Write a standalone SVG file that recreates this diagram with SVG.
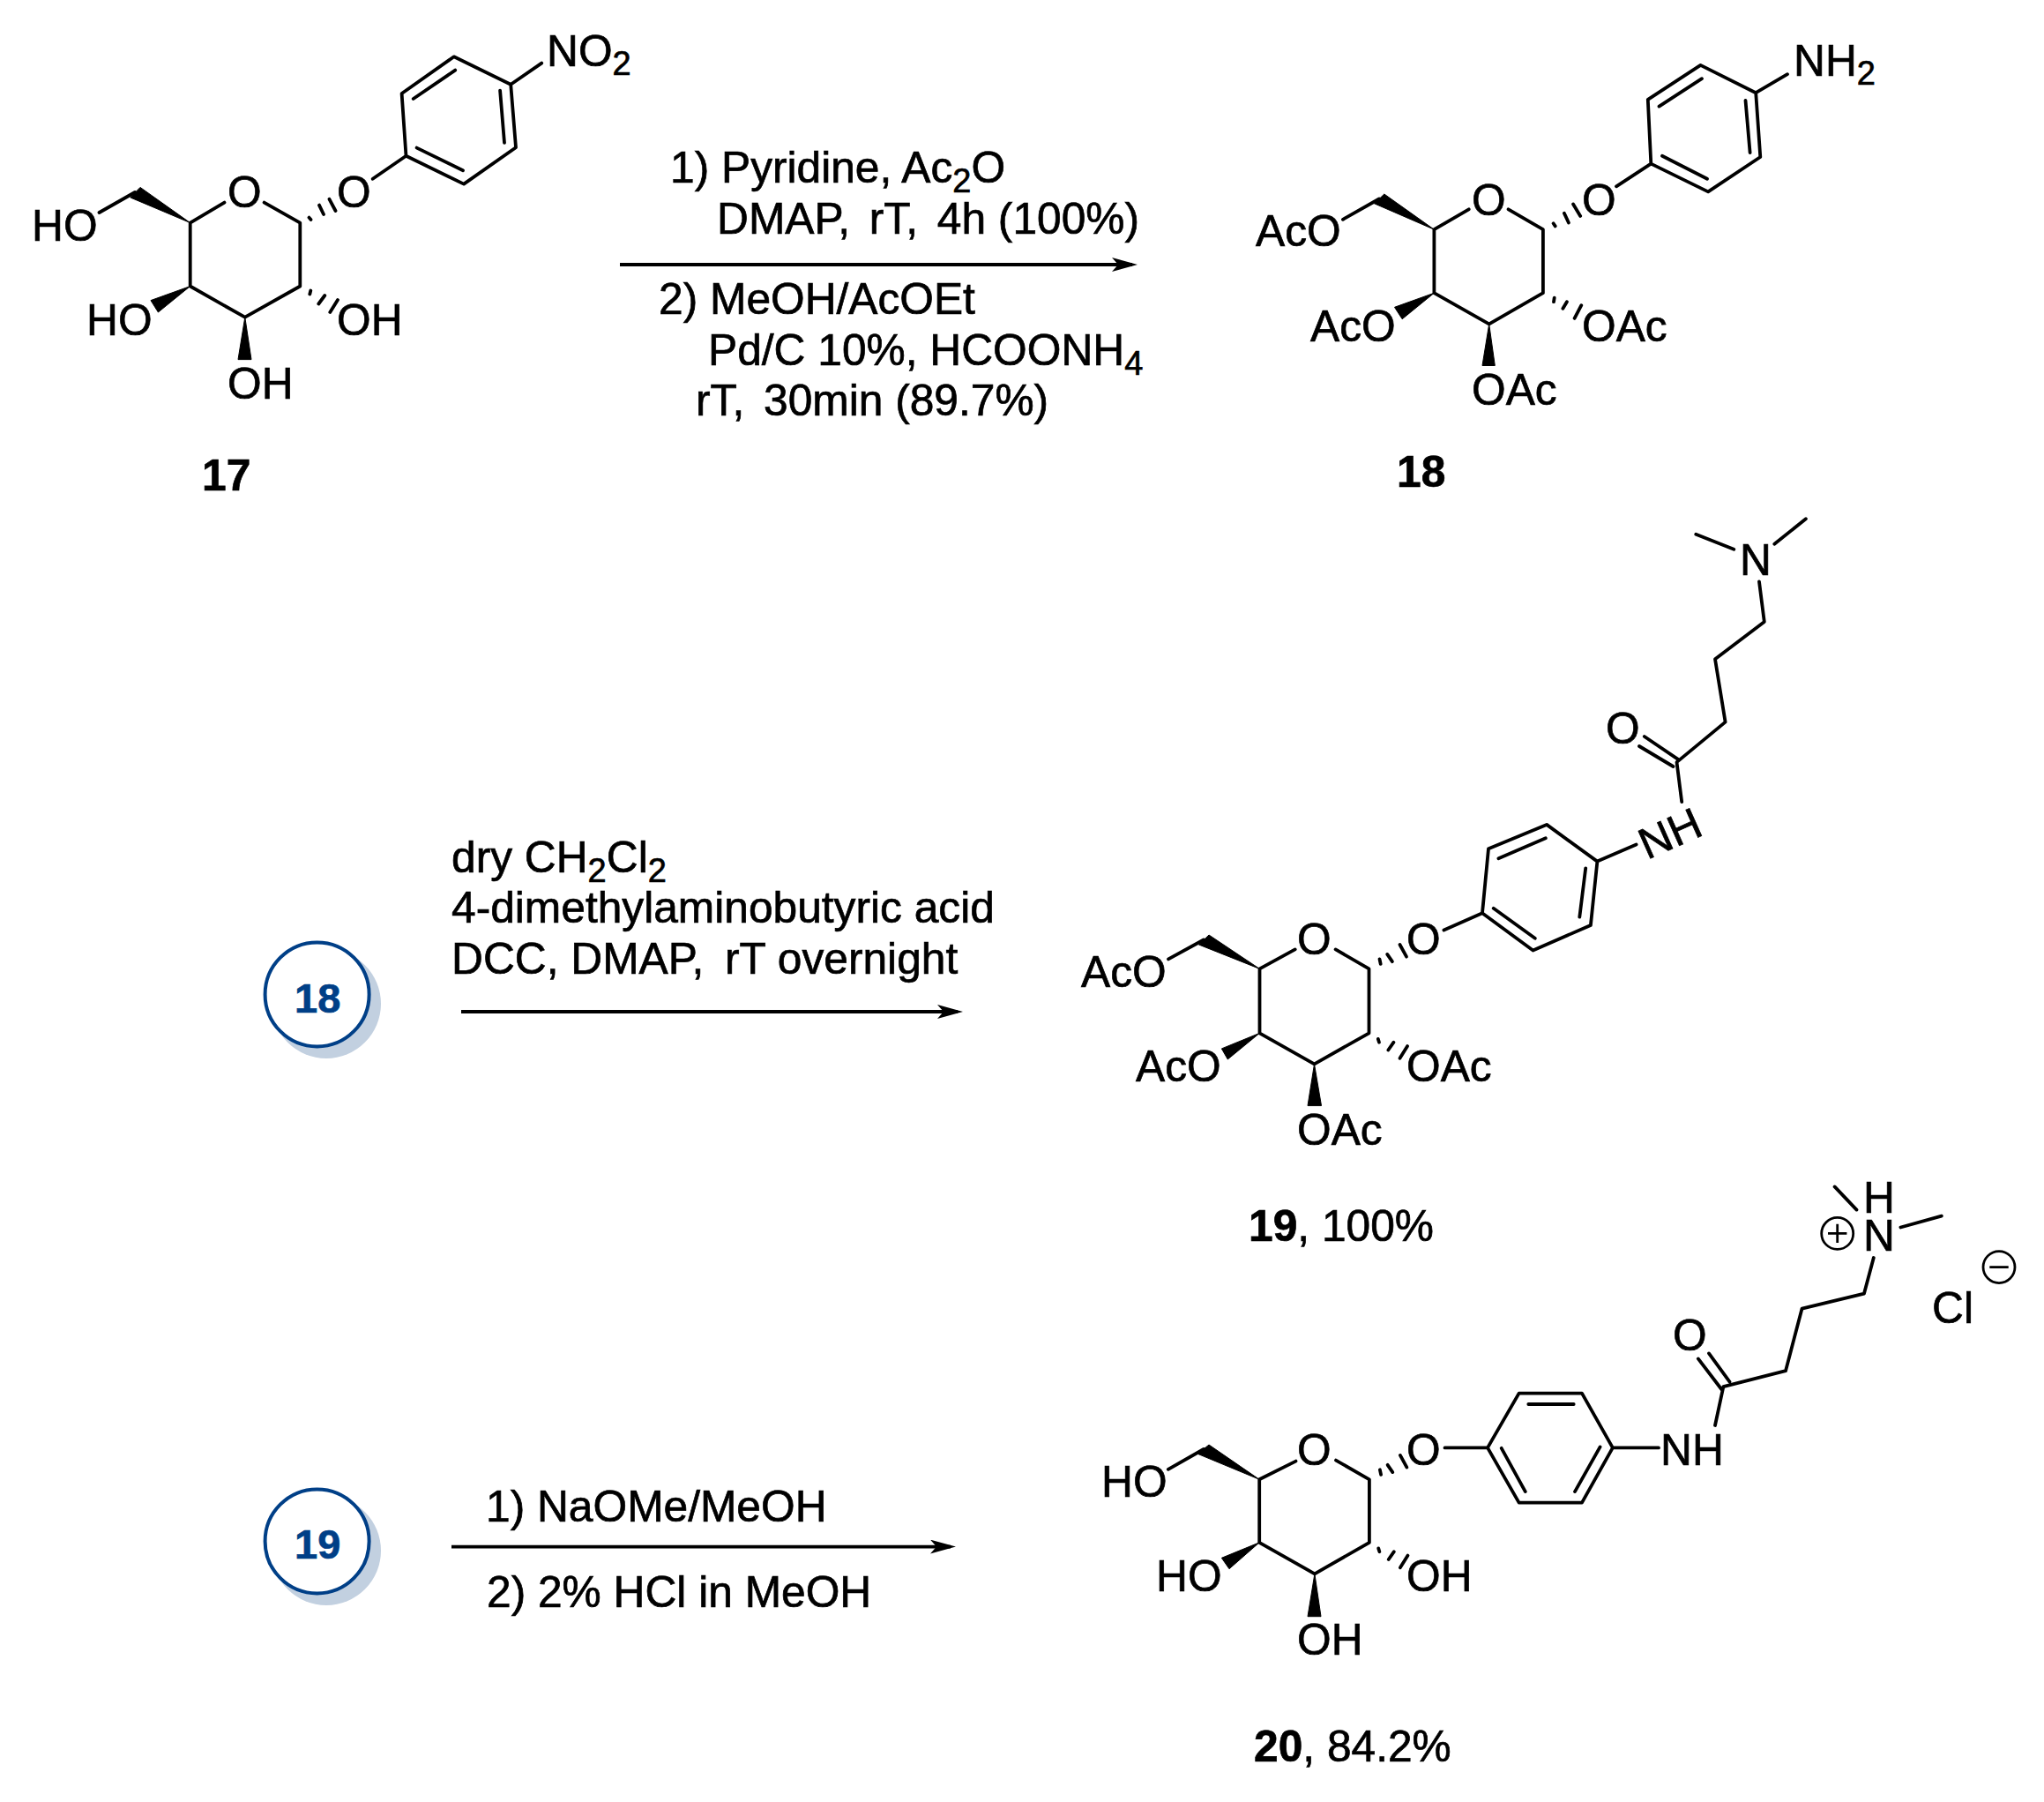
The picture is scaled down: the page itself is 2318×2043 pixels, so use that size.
<svg xmlns="http://www.w3.org/2000/svg" width="2318" height="2043" viewBox="0 0 2318 2043">
<style>
text{font-family:"Liberation Sans",Arial,sans-serif;font-size:49.7px;fill:#000;stroke:#000;stroke-width:.7}
.b{font-weight:bold}
.s{font-size:38px}
.bond{fill:none;stroke:#000;stroke-width:3.8;stroke-linejoin:round;stroke-linecap:round}
.wedge{fill:#000;stroke:#000;stroke-width:1;stroke-linejoin:round}
.arrow{stroke:#000;stroke-width:3.8;fill:none;marker-end:url(#head)}
.badge{fill:#fff;stroke:#003f87;stroke-width:4}
.shadow{fill:#c2d0e0}
text.num{fill:#003f87;stroke:#003f87;font-weight:bold;font-size:47px}
.chg{fill:none;stroke:#000;stroke-width:2.8}
</style>
<defs>
<marker id="head" markerUnits="userSpaceOnUse" viewBox="0 0 30 16" refX="23" refY="8" markerWidth="30" markerHeight="16" orient="auto"><path d="M0 0L29 8L0 16L7 8Z" fill="#000"/></marker>
</defs>
<rect width="2318" height="2043" fill="#fff"/>

<g id="connectors">
<line class="arrow" x1="703" y1="300" x2="1284" y2="300"/>
<line class="arrow" x1="523" y1="1147" x2="1086" y2="1147"/>
<line class="arrow" x1="512" y1="1753.6" x2="1078" y2="1753.6"/>
</g>

<g id="mol17">
<path class="bond" d="M112.5 241L153 218M215.7 252.6L254.5 229.6M299.6 229.6L340.3 252.6L340.3 324.5L277.8 359.7L215.7 324.5L215.7 252.6M422.7 202.8L460.5 176.8L455.6 106L514.8 64.3L579.2 95.7L585 167.2L526 208.6L460.5 176.8M468.7 112L516.2 79.6M567.1 102.6L572 161.9M472.6 167.6L525 193.3M579.2 95.7L614.2 71.6"/>
<path class="wedge" d="M215.7 252.6L159 212.4L147.8 223.9ZM277.8 359.7L270 407.6L285 407.6ZM215.7 324.5L171 340.6L179.4 354Z"/>
<path class="bond" d="M350.5 246.6L352.5 249M362 232.6L367 243M373.5 225.8L380.5 239M351.3 333.5L352.3 329.5M361.3 344.5L368.3 335M374.3 354L383 340"/>
<text x="36" y="272.5">HO</text>
<text x="258" y="235">O</text>
<text x="382" y="235">O</text>
<text x="620" y="74.6">NO<tspan class="s" dy="10.4">2</tspan></text>
<text x="98" y="380">HO</text>
<text x="382" y="380">OH</text>
<text x="258" y="452">OH</text>
<text class="b" x="229" y="555.7">17</text>
</g>

<g id="reagents1">
<text x="760" y="206.7">1) Pyridine, Ac<tspan class="s" dy="11">2</tspan><tspan dy="-11">O</tspan></text>
<text x="813" y="264.5">DMAP,<tspan dx="8"> rT,</tspan><tspan dx="8"> 4h (100%)</tspan></text>
<text x="747" y="356">2) MeOH/AcOEt</text>
<text x="803" y="414">Pd/C 10%, HCOONH<tspan class="s" dy="11">4</tspan></text>
<text x="789" y="471">rT,<tspan dx="8"> 30min (89.7%)</tspan></text>
</g>

<g id="mol18">
<path class="bond" d="M1522.9 248.8L1564 225.5M1626.4 260.2L1665.7 237.3M1710.6 237.3L1749.9 260.2L1749.9 332.2L1688.7 367.4L1626.4 332.2L1626.4 260.2M1833 211.3L1872.3 185.6L1868.8 112.9L1928.5 73.9L1991.2 105.2L1996.3 178L1937.1 217.4L1872.3 185.6M1881.5 120.6L1930 89.2M1979.5 114L1984.6 173M1885 176.8L1936 202.8M1991.2 105.2L2027 84.2"/>
<path class="wedge" d="M1626.4 260.2L1569.8 220L1558.6 230.8ZM1688.7 367.4L1681 414.5L1695.3 414.5ZM1626.4 332.2L1581.5 348.3L1590.2 361.7Z"/>
<path class="bond" d="M1761.6 253.3L1763.7 256.4M1773.9 241.8L1778.9 252.5M1784.1 231.5L1792.2 244.9M1762 342.2L1762.7 337.6M1772.4 349.8L1776.9 342.2M1785.6 360.9L1793.3 346.2"/>
<text x="1424" y="279.4">AcO</text>
<text x="1669" y="244">O</text>
<text x="1794" y="244">O</text>
<text x="2034" y="86">NH<tspan class="s" dy="10.4">2</tspan></text>
<text x="1486" y="386.5">AcO</text>
<text x="1794" y="386.5">OAc</text>
<text x="1669" y="459">OAc</text>
<text class="b" x="1584" y="551.9">18</text>
</g>

<g id="badge18">
<circle class="shadow" cx="370" cy="1138" r="62"/>
<circle class="badge" cx="359.6" cy="1127.4" r="59"/>
<text class="num" x="334" y="1147.5">18</text>
</g>

<g id="reagents2">
<text x="512" y="989">dry CH<tspan class="s" dy="11">2</tspan><tspan dy="-11">Cl</tspan><tspan class="s" dy="11">2</tspan></text>
<text x="512" y="1046.4">4-dimethylaminobutyric acid</text>
<text x="512" y="1103.8">DCC, DMAP,<tspan dx="10"> rT overnight</tspan></text>
</g>

<g id="mol19">
<path class="bond" d="M1325 1087.4L1365 1065.5M1428.5 1098.4L1468.7 1076.4M1514.6 1076.4L1552.5 1098.4L1552.5 1171.3L1490.5 1206.4L1428.5 1171.3L1428.5 1098.4M1637.4 1054.5L1681 1035.3L1688 962.3L1754 934.9L1811.4 976.6L1803.9 1049L1738.5 1077.5L1681 1035.3M1699.4 973.3L1752.8 950.3M1798.2 984.3L1791.3 1039.7M1693.7 1029.8L1740.8 1063.8M1811.4 976.6L1855.6 957.4M1907.2 909.1L1901.5 864.1L1956.6 818.6L1945 747.3L2000.8 705L1995 659.5M1864.8 835L1903 860.9M1859 846L1897.5 869M1966.3 622.8L1923.3 605.8M2012.3 616.8L2047.9 588.2"/>
<path class="wedge" d="M1428.5 1098.4L1371 1060L1359.6 1071ZM1490.5 1206.4L1483 1253.6L1498.5 1253.6ZM1428.5 1171.3L1385.4 1188.9L1392.3 1201Z"/>
<path class="bond" d="M1564.5 1087.4L1565.7 1092.9M1573.2 1081.9L1578.9 1090.2M1587.5 1071L1595 1084.7M1562.8 1177.9L1564 1181.7M1574.3 1190.5L1580.5 1181.7M1587.5 1199.8L1596.1 1186.1"/>
<text x="1226" y="1119.2">AcO</text>
<text x="1471" y="1082">O</text>
<text x="1595" y="1082">O</text>
<text x="1288" y="1226">AcO</text>
<text x="1595" y="1226">OAc</text>
<text x="1471" y="1297.5">OAc</text>
<text transform="translate(1868 975) rotate(-24)">NH</text>
<text x="1821" y="843.3">O</text>
<text x="1973" y="652">N</text>
<text x="1416" y="1407"><tspan class="b">19</tspan>, 100%</text>
</g>

<g id="badge19">
<circle class="shadow" cx="370" cy="1758" r="62"/>
<circle class="badge" cx="359.6" cy="1747.4" r="59"/>
<text class="num" x="334" y="1767">19</text>
</g>

<g id="reagents3">
<text x="551" y="1725">1) NaOMe/MeOH</text>
<text x="552" y="1822">2) 2% HCl in MeOH</text>
</g>

<g id="mol20">
<path class="bond" d="M1324.8 1665.8L1365 1643M1428.2 1677.3L1469.5 1656.6M1515 1655.6L1552.9 1677.3L1552.9 1748.8L1490.9 1784.3L1428.2 1748.8L1428.2 1677.3M1638.5 1641.4L1687 1641.4L1722.6 1579.6L1794 1579.6L1828.9 1641.4L1794 1703.6L1722.6 1703.6L1687 1641.4M1733.3 1592L1784.7 1592M1814.6 1640.4L1786 1691.1M1702.7 1641.8L1729.8 1691.1M1828.9 1641.4L1881 1641.4M1945 1616L1954.4 1572.2L2025 1554.2L2043.5 1483.7L2114 1466.6L2124.8 1426M1938 1534.4L1961.5 1566.7M1925.8 1540.4L1952.2 1575M2105.5 1371.6L2080.6 1345.4M2155.4 1391.5L2201.8 1378.6"/>
<path class="wedge" d="M1428.2 1677.3L1371 1638L1358.3 1648.3ZM1490.9 1784.3L1483 1832.7L1498 1832.7ZM1428.2 1748.8L1385.4 1766.3L1394 1778.7Z"/>
<path class="bond" d="M1564.9 1666.3L1566.1 1671.8M1573.6 1660.8L1579.3 1669.1M1587.9 1649.9L1595.4 1663.6M1563.2 1755.4L1564.4 1759.2M1574.7 1768L1580.9 1759.2M1587.9 1777.3L1596.5 1763.6"/>
<text x="1249" y="1696.5">HO</text>
<text x="1471" y="1661">O</text>
<text x="1595" y="1661">O</text>
<text x="1883" y="1661">NH</text>
<text x="1311" y="1804">HO</text>
<text x="1595" y="1804">OH</text>
<text x="1471" y="1876">OH</text>
<text x="1897" y="1530.5">O</text>
<text x="2113" y="1417.5">N</text>
<text x="2113" y="1375">H</text>
<circle class="chg" cx="2083.7" cy="1398.4" r="18"/>
<path class="chg" d="M2073 1398.4H2094.4M2083.7 1387.7V1409.1"/>
<text x="2191" y="1499.5">Cl</text>
<circle class="chg" cx="2267" cy="1436.6" r="18"/>
<path class="chg" d="M2256.3 1436.6H2277.7"/>
<text x="1422" y="1996.5"><tspan class="b">20</tspan>, 84.2%</text>
</g>
</svg>
